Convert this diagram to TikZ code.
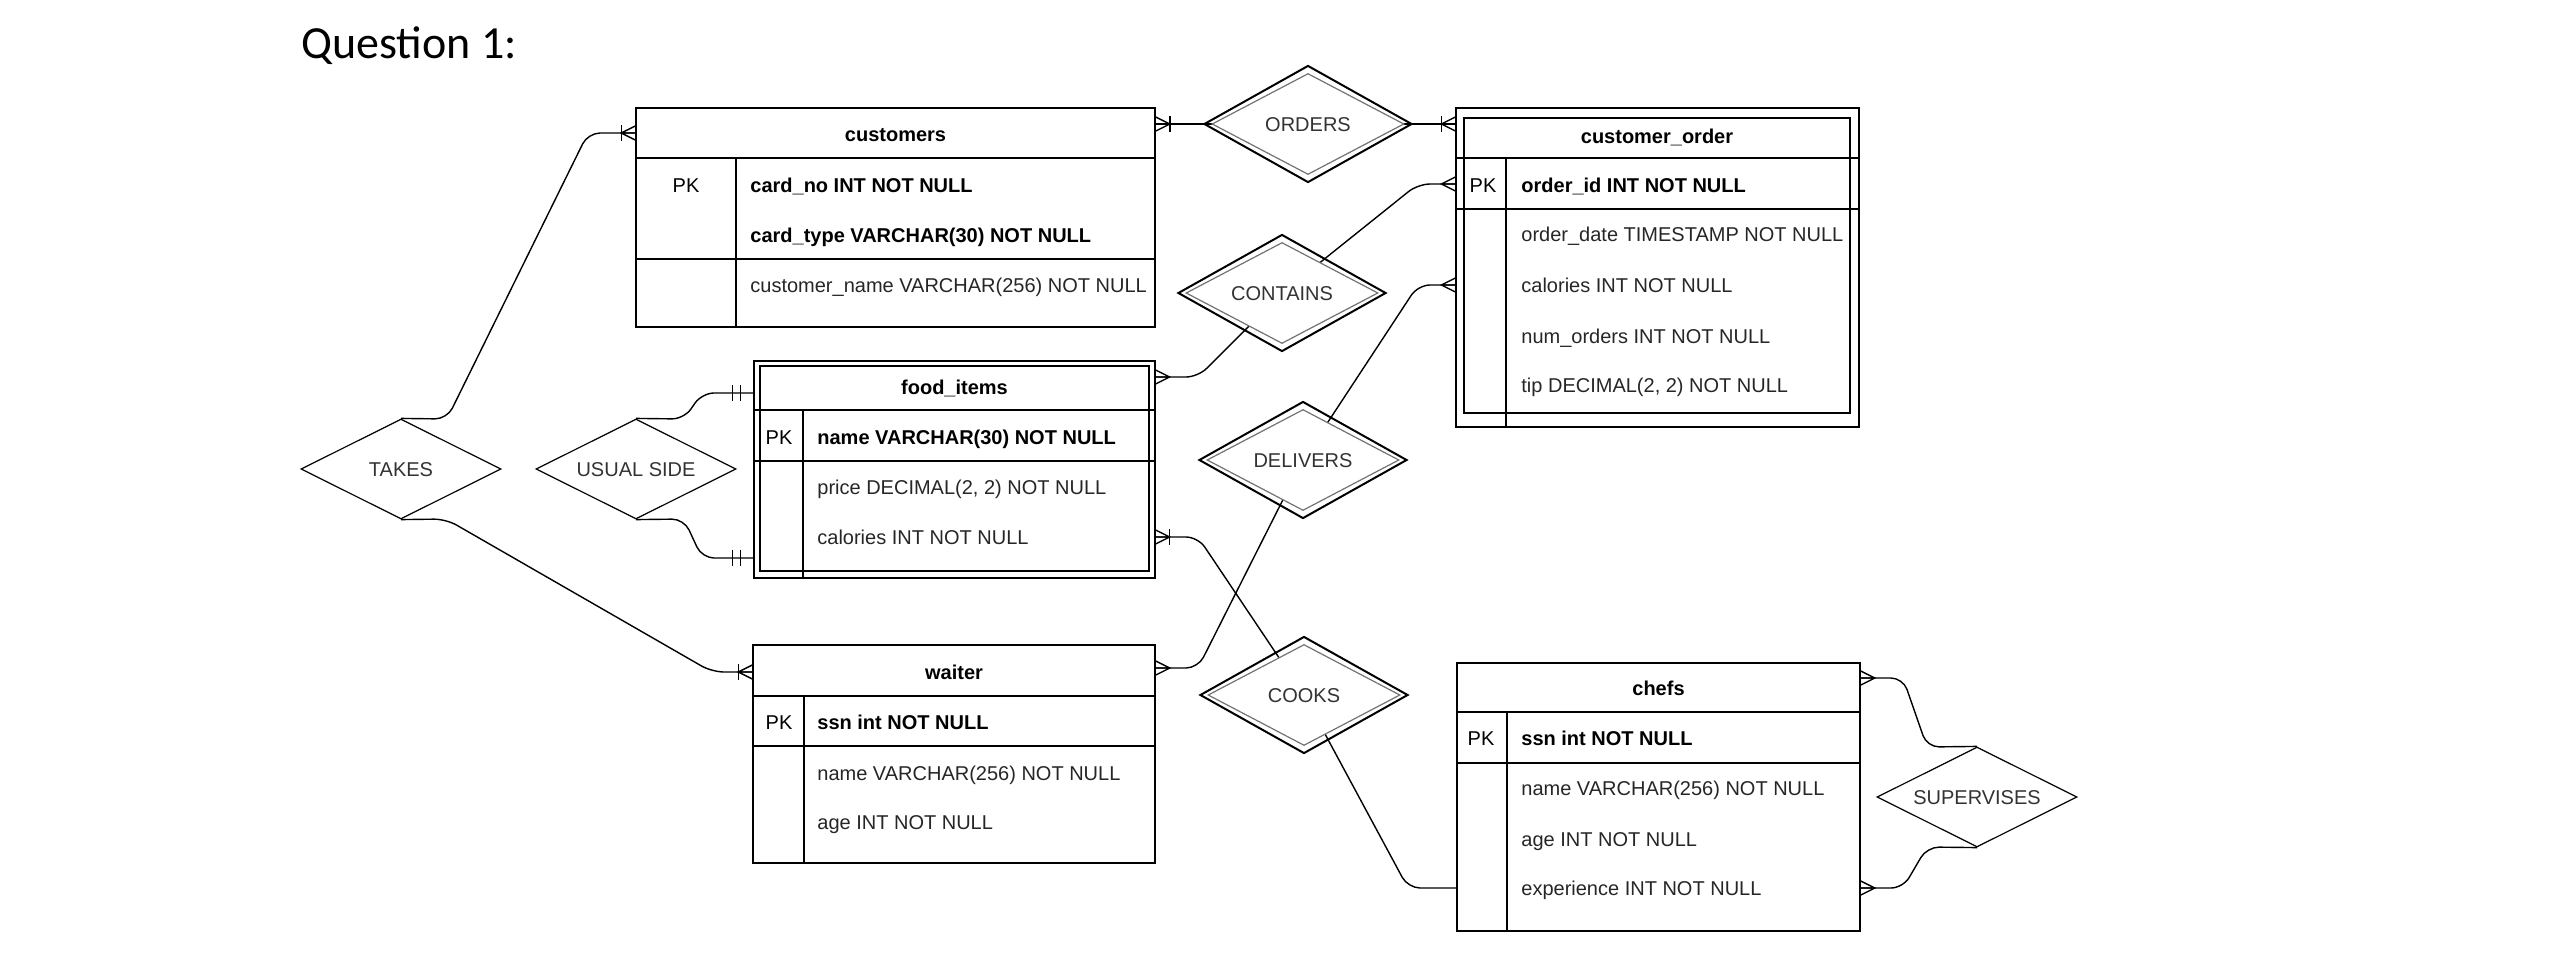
\documentclass[tikz,border=0pt]{standalone}
\usepackage{fontspec}
\setmainfont{Liberation Sans}
\newfontfamily\calibri{Carlito}
\usetikzlibrary{shapes.geometric,backgrounds}

\tikzset{
  tbl/.style={draw, line width=0.8pt, inner sep=0pt},
  tblout/.style={draw, line width=0.6pt, inner sep=0pt},
  ttl/.style={font=\fontsize{10}{12}\selectfont\bfseries, text height=7.2pt, text depth=0pt, inner sep=0pt},
  fld/.style={anchor=west, font=\fontsize{10}{12}\selectfont, text=black!85, text height=7.2pt, text depth=0pt, inner sep=0pt},
  keyfld/.style={fld, font=\fontsize{10}{12}\selectfont\bfseries, text=black},
  pk/.style={font=\fontsize{10}{12}\selectfont, text height=7.2pt, text depth=0pt, inner sep=0pt},
  rel/.style={diamond, draw, line width=0.6pt, fill=white, shape aspect=2, inner sep=0pt,
    minimum width=100pt, minimum height=50pt, font=\fontsize{10}{12}\selectfont, text=black!80,
    text height=7.2pt, text depth=0pt},
  wrel/.style={rel, draw=black!55, minimum width=96pt, minimum height=50.5pt},
  wrelbox/.style={diamond, draw, line width=1pt, shape aspect=2, inner sep=0pt, minimum width=104pt, minimum height=58.5pt},
  conn/.style={line width=0.7pt, rounded corners=6pt},
  crowfoot/.pic={\draw[line width=0.7pt] (0,-7) -- (14,0) -- (0,7) (0,0) -- (14,0);},
  onebar/.pic={\draw[line width=0.7pt] (14,-8) -- (14,8);},
  twobar/.pic={\draw[line width=0.7pt] (13,-8) -- (13,8) (21,-8) -- (21,8);}
}

\begin{document}
\begin{tikzpicture}[x=0.5pt,y=-0.5pt]
  \useasboundingbox (0,0) rectangle (2549,975);
  \node[font=\calibri\fontsize{23}{28}\selectfont, anchor=base west, inner sep=0pt] (title) at (301,58) {Question 1:};

  % customers
  \node[tbl, minimum width=259.5pt, minimum height=109.5pt] (cust) at (895.5,217.5) {};
  \draw[line width=0.8pt] (cust.west |- 0,158) -- (cust.east |- 0,158)
    (cust.west |- 0,259) -- (cust.east |- 0,259) (736,158) -- (736,327);
  \node[ttl] (custh) at (895.5,134) {customers};
  \node[pk] (custpk) at (686,185) {PK};
  \node[keyfld] (custa) at (750,185) {card\_no INT NOT NULL};
  \node[keyfld] (custb) at (750,235) {card\_type VARCHAR(30) NOT NULL};
  \node[fld] (custc) at (750,285) {customer\_name VARCHAR(256) NOT NULL};

  % customer_order (weak entity)
  \node[tblout, minimum width=201.5pt, minimum height=159.5pt] (order) at (1657.5,267.5) {};
  \draw[line width=1.1pt] (1464,118) rectangle (1850,413);
  \draw[line width=0.8pt] (order.west |- 0,158) -- (order.east |- 0,158)
    (order.west |- 0,209) -- (order.east |- 0,209) (1506,158) -- (1506,427);
  \node[ttl] (orderh) at (1657,136) {customer\_order};
  \node[pk] (orderpk) at (1483,185) {PK};
  \node[keyfld] (ordera) at (1521,185) {order\_id INT NOT NULL};
  \node[fld] (orderb) at (1521,234) {order\_date TIMESTAMP NOT NULL};
  \node[fld] (orderc) at (1521,285) {calories INT NOT NULL};
  \node[fld] (orderd) at (1521,336) {num\_orders INT NOT NULL};
  \node[fld] (ordere) at (1521,385) {tip DECIMAL(2, 2) NOT NULL};

  % food_items (weak entity)
  \node[tblout, minimum width=200.5pt, minimum height=108.5pt] (food) at (954.5,469.5) {};
  \draw[line width=1.1pt] (760,366) rectangle (1149,571);
  \draw[line width=0.8pt] (food.west |- 0,410) -- (food.east |- 0,410)
    (food.west |- 0,461) -- (food.east |- 0,461) (803,410) -- (803,578);
  \node[ttl] (foodh) at (954.5,387) {food\_items};
  \node[pk] (foodpk) at (779,437) {PK};
  \node[keyfld] (fooda) at (817,437) {name VARCHAR(30) NOT NULL};
  \node[fld] (foodb) at (817,487) {price DECIMAL(2, 2) NOT NULL};
  \node[fld] (foodc) at (817,537) {calories INT NOT NULL};

  % waiter
  \node[tbl, minimum width=201pt, minimum height=109pt] (waiter) at (954,754) {};
  \draw[line width=0.8pt] (waiter.west |- 0,696) -- (waiter.east |- 0,696)
    (waiter.west |- 0,746) -- (waiter.east |- 0,746) (804,696) -- (804,863);
  \node[ttl] (waiterh) at (954,672) {waiter};
  \node[pk] (waiterpk) at (779,722) {PK};
  \node[keyfld] (waitera) at (817,722) {ssn int NOT NULL};
  \node[fld] (waiterb) at (817,773) {name VARCHAR(256) NOT NULL};
  \node[fld] (waiterc) at (817,822) {age INT NOT NULL};

  % chefs
  \node[tbl, minimum width=201.5pt, minimum height=134pt] (chefs) at (1658.5,797) {};
  \draw[line width=0.8pt] (chefs.west |- 0,712) -- (chefs.east |- 0,712)
    (chefs.west |- 0,763) -- (chefs.east |- 0,763) (1507,712) -- (1507,931);
  \node[ttl] (chefsh) at (1658.5,688) {chefs};
  \node[pk] (chefspk) at (1481,738) {PK};
  \node[keyfld] (chefsa) at (1521,738) {ssn int NOT NULL};
  \node[fld] (chefsb) at (1521,788) {name VARCHAR(256) NOT NULL};
  \node[fld] (chefsc) at (1521,839) {age INT NOT NULL};
  \node[fld] (chefsd) at (1521,888) {experience INT NOT NULL};

  % relationships
  \node[wrelbox] (ordersb) at (1308,124) {};
  \node[wrel] (orders) at (1308,124) {ORDERS};
  \node[wrelbox] (containsb) at (1282,293) {};
  \node[wrel] (contains) at (1282,293) {CONTAINS};
  \node[wrelbox] (deliversb) at (1303,460) {};
  \node[wrel] (delivers) at (1303,460) {DELIVERS};
  \node[wrelbox] (cooksb) at (1304,695) {};
  \node[wrel] (cooks) at (1304,695) {COOKS};
  \node[rel] (takes) at (401,469) {TAKES};
  \node[rel] (usualside) at (636,469) {USUAL SIDE};
  \node[rel] (supervises) at (1977,797) {SUPERVISES};

  % connectors
  \begin{scope}[on background layer]
    \draw[conn] (cust.east |- 0,124) -- (orders.center);
    \draw[conn] (orders.center) -- (order.west |- 0,124);
    \draw[conn] (food.east |- 0,377) -- (1198,377) -- (contains.center);
    \draw[conn] (contains.center) -- (1418,184) -- (order.west |- 0,184);
    \draw[conn] (waiter.east |- 0,668) -- (1198,668) -- (delivers.center);
    \draw[conn] (delivers.center) -- (1418,285) -- (order.west |- 0,285);
    \draw[conn] (food.east |- 0,537) -- (1198,537) -- (cooks.center);
    \draw[conn] (cooks.center) -- (1408,888) -- (chefs.west |- 0,888);
    \draw[conn] (takes.north) -- (447,419) -- (588,133) -- (cust.west |- 0,133);
    \draw[conn] (takes.south) -- (446,519) -- (712,672) -- (waiter.west |- 0,672);
    \draw[conn] (usualside.north) -- (684,419) -- (702,393) -- (food.west |- 0,393);
    \draw[conn] (usualside.south) -- (684,519) -- (702,558) -- (food.west |- 0,558);
    \draw[conn] (chefs.east |- 0,678) -- (1903,678) -- (1927,747) -- (supervises.north);
    \draw[conn] (supervises.south) -- (1927,847) -- (1903,888) -- (chefs.east |- 0,888);
  \end{scope}

  % cardinality marks
  \pic at (cust.east |- 0,124) {crowfoot}; \pic at (cust.east |- 0,124) {onebar};
  \pic[rotate=180] at (order.west |- 0,124) {crowfoot}; \pic[rotate=180] at (order.west |- 0,124) {onebar};
  \pic[rotate=180] at (order.west |- 0,184) {crowfoot};
  \pic[rotate=180] at (order.west |- 0,285) {crowfoot};
  \pic at (food.east |- 0,377) {crowfoot};
  \pic at (food.east |- 0,537) {crowfoot}; \pic at (food.east |- 0,537) {onebar};
  \pic at (waiter.east |- 0,668) {crowfoot};
  \pic[rotate=180] at (waiter.west |- 0,672) {crowfoot}; \pic[rotate=180] at (waiter.west |- 0,672) {onebar};
  \pic[rotate=180] at (cust.west |- 0,133) {crowfoot}; \pic[rotate=180] at (cust.west |- 0,133) {onebar};
  \pic[rotate=180] at (food.west |- 0,393) {twobar};
  \pic[rotate=180] at (food.west |- 0,558) {twobar};
  \pic at (chefs.east |- 0,678) {crowfoot};
  \pic at (chefs.east |- 0,888) {crowfoot};
\end{tikzpicture}
\end{document}
